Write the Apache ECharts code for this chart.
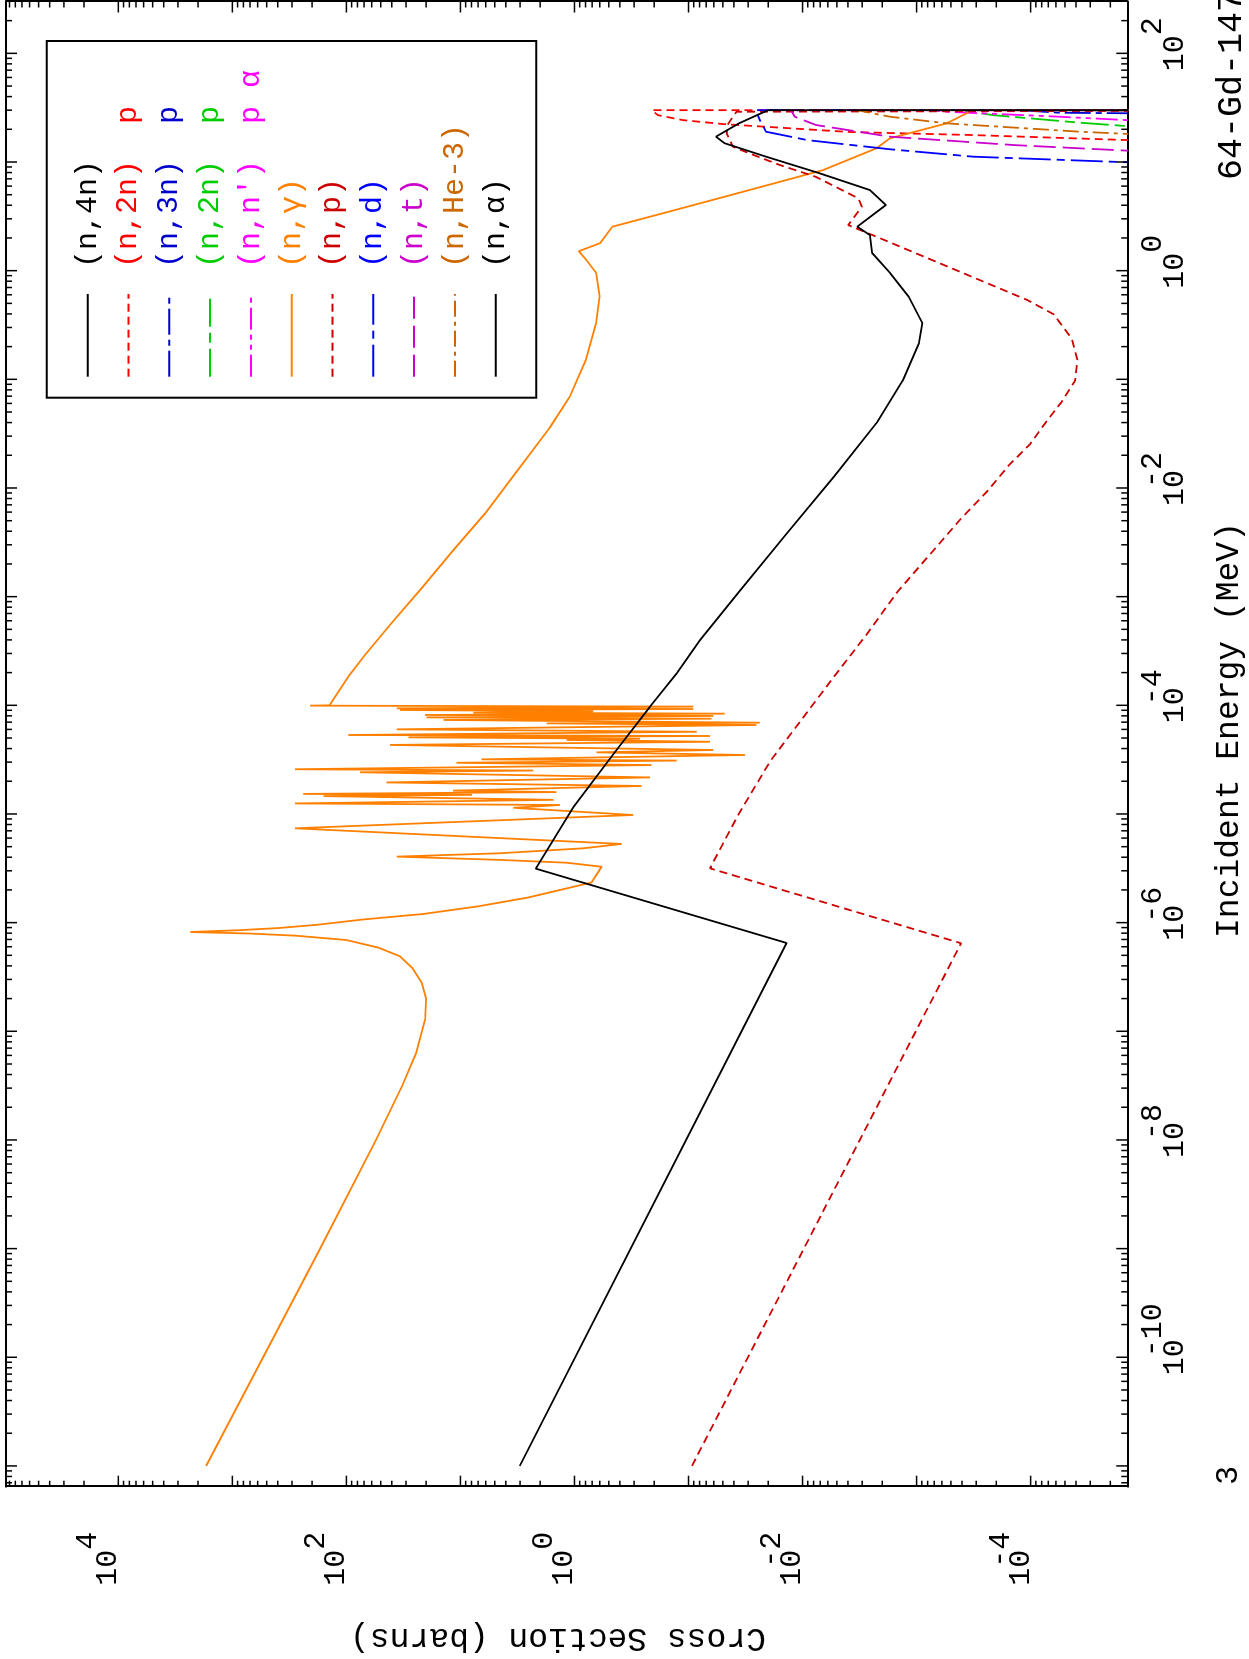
<!DOCTYPE html>
<html><head><meta charset="utf-8">
<script src="https://cdn.jsdelivr.net/npm/echarts/dist/echarts.min.js"></script>
<style>
html,body{margin:0;padding:0;background:#fff;overflow:hidden;width:1249px;height:1659px;}
#chart{position:absolute;left:0;top:1659px;width:1659px;height:1249px;transform-origin:0 0;transform:rotate(-90deg);background:#fff;}
</style></head><body><div id="chart"></div>
<script>
// ---- axis ranges (MeV, barns) ----
const energyMin = 6.44e-12, energyMax = 300;
const xsMin = 1.42e-5, xsMax = 9.66e4;
const energyLabelExponents = [-10, -8, -6, -4, -2, 0, 2];
const xsLabelExponents = [4, 2, 0, -2, -4];

// ---- data: [energy MeV, cross section b] ----
const nGamma = [
 [1e-11,1698],[1e-9,170],[1e-8,55.0],[3.16e-8,32.4],[6.31e-8,24.5],[1.29e-7,20.4],[2.0e-7,20.0],[2.82e-7,21.9],
 [3.80e-7,26.3],[4.90e-7,33.9],[5.89e-7,52.5],[6.92e-7,100],[7.59e-7,282],[7.94e-7,708],[8.20e-7,2344],[8.51e-7,891],
 [8.91e-7,398],[9.55e-7,182],[1.07e-6,70.8],[1.20e-6,21.4],[1.41e-6,7.08],[1.70e-6,2.57],[2.34e-6,0.708],[3.27e-6,0.578],
 [3.56e-6,1.17],[3.78e-6,4.5],[4.05e-6,36.2],[4.35e-6,4.5],[4.83e-6,0.84],
 [5.30e-6,0.386],[7.38e-6,282],[9.79e-6,0.305],[1.14e-5,3.44],[1.21e-5,1.34],[1.25e-5,282],[1.35e-5,1.53],
 [1.46e-5,159],[1.50e-5,7.9],[1.53e-5,239],[1.59e-5,1.44],[1.64e-5,11.6],[1.81e-5,0.258],[1.95e-5,44.4],[2.17e-5,0.218],
 [2.42e-5,76.0],[2.51e-5,2.30],[2.58e-5,282],[2.82e-5,0.211],[2.96e-5,10.8],[3.10e-5,0.127],[3.18e-5,6.52],[3.49e-5,0.0320],
 [3.69e-5,0.640],[3.88e-5,0.0607],[4.32e-5,41.5],[4.62e-5,0.0649],[4.80e-5,1.17],[4.93e-5,0.267],[5.07e-5,28.6],[5.22e-5,0.0649],
 [5.33e-5,96.2],[5.71e-5,0.0849],[6.01e-5,36.2],[6.59e-5,0.0253],[6.82e-5,1.75],[6.92e-5,0.0237],[7.33e-5,14.1],[7.53e-5,0.0628],
 [7.74e-5,19.8],[7.98e-5,0.0607],[8.15e-5,20.5],[8.38e-5,0.0480],[8.55e-5,7.71],[8.81e-5,0.684],[9.06e-5,33.9],[9.25e-5,0.0908],
 [9.38e-5,36.2],[9.73e-5,0.0908],[9.93e-5,208],
 [1.0e-4,141],[1.86e-4,95.5],[2.88e-4,69.2],[5.62e-4,40.7],[1.23e-3,21.4],[2.69e-3,11.5],[5.89e-3,6.03],[1.45e-2,3.16],
 [3.55e-2,1.66],[6.92e-2,1.10],[0.151,0.794],[0.331,0.646],[0.582,0.603],[0.955,0.646],[1.27,0.794],[1.51,0.918],
 [1.79,0.597],[2.54,0.465],[3.61,0.132],[4.79,0.0484],[6.58,0.0158],[8.43,0.00661],[13.4,0.00224],[16.5,0.00172],
 [22.7,5.45e-4],[28.6,3.52e-4],[30,3.39e-4],[30,1e-8]
];
const nAlpha = [
 [1e-11,3.02],[6.50e-7,0.0138],[3.14e-6,2.19],[1.16e-5,1.02],[3.89e-5,0.427],[9.70e-5,0.218],[1.97e-4,0.127],[3.98e-4,0.0794],
 [1.10e-3,0.0363],[3.80e-3,0.0138],[1.29e-2,5.25e-3],[3.98e-2,2.24e-3],[9.77e-2,1.32e-3],[0.214,9.55e-4],[0.331,8.91e-4],
 [0.575,1.17e-3],[0.946,1.70e-3],[1.45,2.45e-3],[2.13,2.57e-3],[2.54,3.31e-3],[4.02,1.86e-3],[5.52,2.57e-3],[7.87,7.08e-3],
 [11.2,0.0209],[14.9,0.0484],[17.1,0.0575],[22.9,0.0355],[30,0.0200],[30,1e-8]
];
const nP = [
 [1e-11,0.0933],[6.46e-7,4.07e-4],[3.16e-6,0.0649],[1e-5,0.0363],[3.09e-5,0.0191],[7.59e-5,0.0100],[1.86e-4,5.25e-3],
 [4.47e-4,2.75e-3],[1.10e-3,1.48e-3],[2.40e-3,7.76e-4],[5.25e-3,4.07e-4],[9.33e-3,2.40e-4],[1.62e-2,1.55e-4],[2.51e-2,1.02e-4],
 [3.98e-2,7.41e-5],[6.17e-2,5.37e-5],[9.77e-2,4.07e-5],[0.152,3.89e-5],[0.238,4.37e-5],[0.398,6.31e-5],[0.537,1.07e-4],
 [2.05,2.24e-3],[2.63,3.98e-3],[3.87,3.02e-3],[4.63,3.24e-3],[7.31,7.66e-3],[9.38,0.0158],[11.6,0.0269],[13.8,0.0407],
 [18.4,0.0463],[22.7,0.0447],[29.0,0.0380],[30,0.0372],[30,1e-8]
];
const n2npRed = [[15.5,1e-6],[15.9,1.37e-5],[17.7,3.21e-4],[18.9,3.92e-3],[22.3,0.0489],[24.3,0.112],[27.0,0.186],[30,0.209],[30,1e-8]];
const nD = [[9.55,1e-6],[9.93,1.37e-5],[11.2,3.21e-4],[13.1,1.71e-3],[15.9,9.06e-3],[19.0,0.0209],[24.3,0.0237],[30,0.0258],[30,1e-8]];
const nT = [[12.3,1e-6],[12.7,1.37e-5],[14.3,1.37e-4],[17.1,1.71e-3],[21.9,7.62e-3],[26.1,0.0117],[30,0.0126],[30,1e-8]];
const nHe3 = [[17.4,1e-6],[18.1,1.37e-5],[19.0,3.70e-5],[21.9,3.21e-4],[22.7,5.45e-4],[26.1,1.71e-3],[30,3.33e-3],[30,1e-8]];
const n2npGreen = [[20.4,1e-6],[21.4,1.43e-5],[23.0,3.70e-5],[27.0,2.13e-4],[30,4.17e-4],[30,1e-8]];
const nnpa = [[23.4,1e-6],[24.3,1.43e-5],[26.1,5.55e-5],[29.0,5.45e-4],[30,7.59e-4],[30,1e-8]];
const n3np = [[27.5,1e-6],[28.1,1.43e-5],[28.4,5.55e-5],[30,1.26e-4],[30,1e-8]];
const n4n = [[29.5,1e-6],[30,3.16e-5],[30,1e-8]];

const seriesDefs = [
 {id:'n4n',   label:'(n,4n)',          color:'#000000', dash:'solid',          data:n4n},
 {id:'n2np',  label:'(n,2n)  p',       color:'#ff0000', dash:[8,5],            data:n2npRed},
 {id:'n3np',  label:'(n,3n)  p',       color:'#0000cc', dash:[26,5,6,5],       data:n3np},
 {id:'n2npg', label:'(n,2n)  p',       color:'#00cc00', dash:[28,6,10,6],      data:n2npGreen},
 {id:'nnpa',  label:"(n,n')  p \u03b1",color:'#ff00ff', dash:[22,5,5,5,5,5],   data:nnpa},
 {id:'ng',    label:'(n,\u03b3)',      color:'#ff8000', dash:'solid',          data:nGamma},
 {id:'np',    label:'(n,p)',           color:'#cc0000', dash:[8,5],            data:nP},
 {id:'nd',    label:'(n,d)',           color:'#0000ff', dash:[32,6,8,6],       data:nD},
 {id:'nt',    label:'(n,t)',           color:'#cc00cc', dash:[22,7],           data:nT},
 {id:'nhe3',  label:'(n,He-3)',        color:'#cc6600', dash:[16,5,4,5],       data:nHe3},
 {id:'na',    label:'(n,\u03b1)',      color:'#000000', dash:'solid',          data:nAlpha}
];
const labelMap = {};
seriesDefs.forEach(d => labelMap[d.id] = d.label);

// ---- axis decoration ticks (decades + 2..9) ----
function logTicks(min, max, other, axis) {
  const out = [];
  for (let k = Math.floor(Math.log10(min)) - 1; k <= Math.ceil(Math.log10(max)); k++) {
    for (let m = 1; m <= 9; m++) {
      const v = m * Math.pow(10, k);
      if (v >= min * 1.0001 && v <= max * 0.9999) {
        out.push(axis === 'x' ? [v, other, m === 1 ? 2 : 1] : [other, v, m === 1 ? 2 : 1]);
      }
    }
  }
  return out;
}
const xTickData = logTicks(energyMin, energyMax, 1, 'x');
const yTickData = logTicks(xsMin, xsMax, 1, 'y');
const xLabelData = energyLabelExponents.map(e => [Math.pow(10, e), 1, e]);
const yLabelData = xsLabelExponents.map(e => [1, Math.pow(10, e), e]);

const FONT = '"Liberation Mono", "DejaVu Sans Mono", monospace';
function txt(text, x, y, align, size) {
  return {type:'text', style:{text:text, x:x, y:y, font: size + 'px ' + FONT, fill:'#000',
    align:align, textAlign:align, verticalAlign:'middle', textVerticalAlign:'middle'}};
}
const MAJ = 11, MIN = 6, CH = 18;

const chart = echarts.init(document.getElementById('chart'), null, {renderer:'canvas'});
const axisLineStyle = {show:true, lineStyle:{color:'#000', width:2}};
const series = seriesDefs.map(d => ({
  name: d.id, type:'line', data: d.data, showSymbol:false, symbol:'none', clip:true,
  lineStyle:{color:d.color, width:1.8, type:d.dash}, itemStyle:{color:d.color},
  emphasis:{disabled:true}, silent:true, z:3
}));
series.push({
  type:'custom', name:'xticks', data:xTickData, encode:{x:0, y:1}, silent:true, z:5,
  renderItem: function(params, api) {
    const cs = params.coordSys;
    const x = api.coord([api.value(0), 1])[0];
    const len = api.value(2) === 2 ? MAJ : MIN;
    const top = cs.y, bot = cs.y + cs.height;
    return {type:'group', children:[
      {type:'line', shape:{x1:x, y1:bot, x2:x, y2:bot - len}, style:{stroke:'#000', lineWidth:1.5}},
      {type:'line', shape:{x1:x, y1:top, x2:x, y2:top + len}, style:{stroke:'#000', lineWidth:1.5}}
    ]};
  }
});
series.push({
  type:'custom', name:'yticks', data:yTickData, encode:{x:0, y:1}, silent:true, z:5,
  renderItem: function(params, api) {
    const cs = params.coordSys;
    const y = api.coord([1, api.value(1)])[1];
    const len = api.value(2) === 2 ? MAJ : MIN;
    const l = cs.x, r = cs.x + cs.width;
    return {type:'group', children:[
      {type:'line', shape:{x1:l, y1:y, x2:l + len, y2:y}, style:{stroke:'#000', lineWidth:1.5}},
      {type:'line', shape:{x1:r, y1:y, x2:r - len, y2:y}, style:{stroke:'#000', lineWidth:1.5}}
    ]};
  }
});
series.push({
  type:'custom', name:'xlabels', data:xLabelData, encode:{x:0, y:1}, silent:true, z:5,
  renderItem: function(params, api) {
    const cs = params.coordSys;
    const e = api.value(2);
    const u = api.coord([api.value(0), 1])[0];
    const bot = cs.y + cs.height;
    const ch = [txt('10', u, bot + 48, 'center', 30), txt(String(Math.abs(e)), u + CH, bot + 26, 'left', 30)];
    if (e < 0) ch.push(txt('-', u + 9, bot + 25, 'center', 30));
    return {type:'group', children:ch};
  }
});
series.push({
  type:'custom', name:'ylabels', data:yLabelData, encode:{x:0, y:1}, silent:true, z:5,
  renderItem: function(params, api) {
    const cs = params.coordSys;
    const e = api.value(2);
    const v = api.coord([1, api.value(1)])[1];
    const digits = String(Math.abs(e));
    const supRight = cs.x - 45;
    const baseRight = supRight - CH * digits.length;
    const ch = [txt('10', baseRight, v - 10, 'right', 30), txt(digits, baseRight, v - 30, 'left', 30)];
    if (e < 0) ch.push(txt('-', baseRight - 9, v - 31, 'center', 30));
    return {type:'group', children:ch};
  }
});

const option = {
  animation:false,
  backgroundColor:'#fff',
  grid:{left:172.3, right:1.5, top:6, bottom:121.7, containLabel:false},
  xAxis:[
    {type:'log', min:energyMin, max:energyMax, position:'bottom', axisLine:axisLineStyle,
     axisTick:{show:false}, axisLabel:{show:false}, splitLine:{show:false}, minorTick:{show:false}},
    {type:'log', min:energyMin, max:energyMax, position:'top', axisLine:axisLineStyle,
     axisTick:{show:false}, axisLabel:{show:false}, splitLine:{show:false}}
  ],
  yAxis:[
    {type:'log', min:xsMin, max:xsMax, position:'left', axisLine:axisLineStyle,
     axisTick:{show:false}, axisLabel:{show:false}, splitLine:{show:false}},
    {type:'log', min:xsMin, max:xsMax, position:'right', axisLine:axisLineStyle,
     axisTick:{show:false}, axisLabel:{show:false}, splitLine:{show:false}}
  ],
  legend:{
    orient:'vertical', left:1281.3, top:72.7, padding:0, itemWidth:82.7, itemHeight:30, itemGap:10.8,
    selectedMode:false,
    itemStyle:{opacity:0, borderWidth:0},
    textStyle:{fontFamily:FONT, fontSize:30, lineHeight:30, padding:[0,0,0,21]},
    data: seriesDefs.map(d => ({name:d.id, textStyle:{color:d.color}})),
    formatter: function(name){ return labelMap[name]; }
  },
  graphic:[
    {type:'rect', shape:{x:1261.3, y:46.7, width:356.7, height:489.6}, style:{fill:'none', stroke:'#000', lineWidth:2}, z:10},
    {type:'text', x:929, y:1229, style:{text:'Incident Energy (MeV)', font:'33px ' + FONT, fill:'#000', textAlign:'center', textVerticalAlign:'middle', align:'center', verticalAlign:'middle'}},
    {type:'text', x:1479, y:1232, style:{text:'64-Gd-147', font:'35px ' + FONT, fill:'#000', textAlign:'left', textVerticalAlign:'middle', align:'left', verticalAlign:'middle'}},
    {type:'text', x:174, y:1229, style:{text:'3', font:'32px ' + FONT, fill:'#000', textAlign:'left', textVerticalAlign:'middle', align:'left', verticalAlign:'middle'}},
    {type:'text', x:21.5, y:558, rotation:Math.PI/2, style:{text:'Cross Section (barns)', font:'33px ' + FONT, fill:'#000', textAlign:'center', textVerticalAlign:'middle', align:'center', verticalAlign:'middle'}}
  ],
  series: series
};
chart.setOption(option);
</script>
</body></html>
